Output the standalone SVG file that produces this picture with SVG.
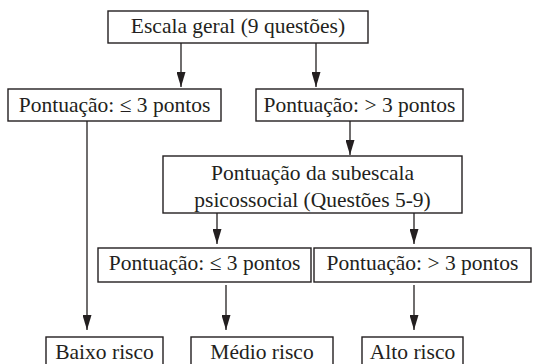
<svg xmlns="http://www.w3.org/2000/svg" width="535" height="364" viewBox="0 0 535 364">
<style>
rect{fill:#fff;stroke:#231f20;stroke-width:1.4}
text{font-family:"Liberation Serif","DejaVu Serif",serif;font-size:21.5px;fill:#231f20;text-anchor:middle}
.c line{stroke:#231f20;stroke-width:1.3;marker-end:url(#a)}
</style>
<defs><marker id="a" viewBox="0 0 15 9" refX="15" refY="4.5" markerWidth="15" markerHeight="9" markerUnits="userSpaceOnUse" orient="auto"><path d="M0,0 L15,4.5 L0,9 Z" fill="#231f20"/></marker></defs>
<rect x="0" y="0" width="535" height="364" style="stroke:none"/>
<g class="c">
<line x1="181" y1="43" x2="181" y2="87"/>
<line x1="316" y1="43" x2="316" y2="87"/>
<line x1="87" y1="121" x2="87" y2="330"/>
<line x1="350" y1="121" x2="350" y2="155"/>
<line x1="217" y1="213" x2="217" y2="244"/>
<line x1="414" y1="213" x2="414" y2="244"/>
<line x1="226" y1="285" x2="226" y2="330"/>
<line x1="414" y1="285" x2="414" y2="330"/>
</g>
<g id="n1"><rect x="108" y="11" width="260" height="32"/><text x="238" y="33">Escala geral (9 questões)</text></g>
<g id="n2"><rect x="8" y="89" width="213" height="32"/><text x="114.5" y="112">Pontuação: ≤ 3 pontos</text></g>
<g id="n3"><rect x="256" y="89" width="207" height="32"/><text x="359.5" y="112">Pontuação: &gt; 3 pontos</text></g>
<g id="n4"><rect x="163" y="156" width="299" height="57"/><text x="312.5" y="180">Pontuação da subescala</text><text x="312.5" y="207">psicossocial (Questões 5-9)</text></g>
<g id="n5"><rect x="98" y="248" width="213" height="34"/><text x="204.5" y="270">Pontuação: ≤ 3 pontos</text></g>
<g id="n6"><rect x="314" y="248" width="217" height="34"/><text x="422.5" y="270">Pontuação: &gt; 3 pontos</text></g>
<g id="n7"><rect x="46" y="337" width="117" height="40"/><text x="104.5" y="359">Baixo risco</text></g>
<g id="n8"><rect x="191" y="337" width="142" height="40"/><text x="262" y="359">Médio risco</text></g>
<g id="n9"><rect x="362" y="337" width="101" height="40"/><text x="412.5" y="359">Alto risco</text></g>
</svg>
